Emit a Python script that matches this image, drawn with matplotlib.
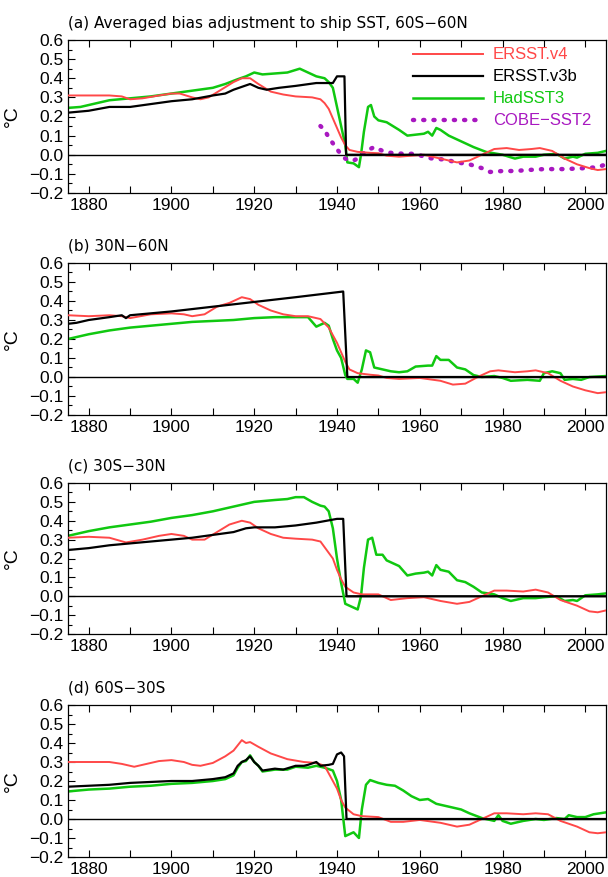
import matplotlib
matplotlib.use("Agg")
import matplotlib.pyplot as plt
from matplotlib.ticker import MultipleLocator

plt.rcParams['font.family'] = ['Liberation Sans Narrow', 'Liberation Sans', 'DejaVu Sans']

# ---- panel (a) 60S-60N ----
a_v4_yr = [1875, 1880, 1885, 1888, 1890, 1893, 1897, 1900, 1902, 1905, 1907, 1909, 1912, 1915, 1917, 1919,
           1921, 1924, 1927, 1930, 1934, 1936, 1937, 1938, 1939, 1940, 1941, 1942, 1943, 1945, 1948, 1950,
           1952, 1955, 1958, 1961, 1965, 1969, 1972, 1975, 1978, 1981, 1984, 1987, 1989, 1992, 1995, 1998,
           2001, 2003, 2005]
a_v4_val = [0.31, 0.31, 0.31, 0.305, 0.29, 0.295, 0.31, 0.32, 0.32, 0.30, 0.29, 0.30, 0.34, 0.38, 0.40, 0.40,
            0.37, 0.33, 0.315, 0.305, 0.30, 0.29, 0.27, 0.24, 0.19, 0.14, 0.09, 0.05, 0.025, 0.015, 0.01, 0.008,
            -0.005, -0.01, -0.005, 0.0, -0.02, -0.04, -0.03, 0.0, 0.03, 0.035, 0.025, 0.03, 0.035, 0.02, -0.02,
            -0.05, -0.07, -0.08, -0.075]
a_v3_yr = [1875, 1880, 1885, 1890, 1895, 1900, 1905, 1910, 1913, 1915, 1917, 1919, 1921, 1923, 1926, 1930,
           1935, 1939, 1940, 1941.8, 1942.2, 2005]
a_v3_val = [0.22, 0.23, 0.25, 0.25, 0.265, 0.28, 0.29, 0.31, 0.32, 0.34, 0.355, 0.37, 0.35, 0.34, 0.35, 0.36,
            0.375, 0.375, 0.41, 0.41, 0.0, 0.0]
a_had_yr = [1875, 1878, 1882, 1885, 1890, 1895, 1900, 1905, 1910, 1913, 1916, 1918, 1920, 1922, 1925, 1928,
            1931, 1933, 1935, 1937, 1938, 1939, 1940, 1941, 1942, 1942.5, 1944, 1945.3, 1945.8, 1946.5, 1947.5,
            1948.2, 1949, 1950, 1952, 1955, 1957, 1959, 1961, 1962, 1963, 1964, 1965, 1967, 1970, 1973, 1976,
            1980, 1983, 1985, 1988, 1990, 1993, 1995, 1997, 1998, 2000, 2003, 2005]
a_had_val = [0.245, 0.25, 0.27, 0.285, 0.295, 0.305, 0.32, 0.335, 0.35, 0.37, 0.395, 0.41, 0.43, 0.42, 0.425,
             0.43, 0.45, 0.43, 0.41, 0.40, 0.38, 0.35, 0.25, 0.15, 0.05, -0.04, -0.045, -0.065, 0.0, 0.12, 0.25,
             0.26, 0.20, 0.18, 0.17, 0.13, 0.10, 0.105, 0.11, 0.12, 0.10, 0.14, 0.13, 0.10, 0.07, 0.04, 0.015,
             0.0, -0.02, -0.01, -0.01, 0.0, 0.005, -0.02, -0.01, -0.015, 0.005, 0.01, 0.02]
a_cobe_yr = [1936, 1937, 1938, 1939, 1940, 1941, 1942, 1943, 1944, 1945, 1946, 1947, 1949, 1951, 1953, 1956,
             1959, 1961, 1963, 1966, 1969, 1972, 1975, 1977, 1980, 1983, 1986, 1990, 1995, 2000, 2003, 2005]
a_cobe_val = [0.15, 0.13, 0.09, 0.06, 0.03, 0.0, -0.02, -0.03, -0.03, -0.02, 0.0, 0.02, 0.04, 0.02, 0.01, 0.005,
              0.005, -0.01, -0.02, -0.025, -0.04, -0.05, -0.07, -0.09, -0.085, -0.085, -0.08, -0.075, -0.075,
              -0.07, -0.065, -0.05]

# ---- panel (b) 30N-60N ----
b_v4_yr = [1875, 1880, 1885, 1888, 1890, 1895, 1900, 1903, 1905, 1908, 1911, 1914, 1917, 1919, 1921, 1924,
           1927, 1930, 1933, 1936, 1938, 1939, 1940, 1941, 1942, 1943, 1945, 1948, 1950, 1952, 1955, 1960,
           1965, 1968, 1971, 1974, 1977, 1979, 1983, 1986, 1988, 1991, 1994, 1997, 2000, 2003, 2005]
b_v4_val = [0.325, 0.32, 0.325, 0.32, 0.31, 0.33, 0.335, 0.33, 0.32, 0.33, 0.37, 0.39, 0.42, 0.41, 0.38, 0.35,
            0.33, 0.32, 0.32, 0.305, 0.26, 0.22, 0.18, 0.13, 0.08, 0.04, 0.02, 0.012, 0.008, -0.005, -0.01,
            -0.005, -0.02, -0.04, -0.035, 0.0, 0.03, 0.035, 0.025, 0.03, 0.035, 0.02, -0.02, -0.05, -0.07,
            -0.085, -0.08]
b_v3_yr = [1875, 1877, 1880, 1885, 1888, 1889, 1890, 1900, 1910, 1920, 1930, 1941.5, 1942.5, 2005]
b_v3_val = [0.28, 0.285, 0.30, 0.315, 0.325, 0.31, 0.325, 0.345, 0.37, 0.395, 0.42, 0.45, 0.0, 0.0]
b_had_yr = [1875, 1880, 1885, 1890, 1895, 1900, 1905, 1910, 1915, 1920, 1925, 1930, 1933, 1934, 1935, 1936,
            1937, 1938, 1939, 1940, 1941, 1942, 1942.5, 1944, 1945, 1946, 1947, 1948, 1949, 1951, 1953, 1955,
            1957, 1959, 1962, 1963, 1964, 1965, 1967, 1969, 1971, 1973, 1975, 1978, 1980, 1982, 1986, 1989,
            1990, 1992, 1994, 1995, 1997, 1999, 2001, 2005]
b_had_val = [0.20, 0.225, 0.245, 0.26, 0.27, 0.28, 0.29, 0.295, 0.30, 0.31, 0.315, 0.315, 0.315, 0.29, 0.265,
             0.275, 0.285, 0.27, 0.20, 0.14, 0.10, 0.01, -0.01, -0.01, -0.03, 0.04, 0.14, 0.13, 0.05, 0.04,
             0.03, 0.025, 0.03, 0.055, 0.06, 0.06, 0.11, 0.09, 0.09, 0.05, 0.04, 0.01, 0.0, 0.005, -0.005,
             -0.02, -0.015, -0.02, 0.02, 0.03, 0.02, -0.015, -0.01, -0.015, 0.0, 0.005]

# ---- panel (c) 30S-30N ----
c_v4_yr = [1875, 1880, 1885, 1889, 1893, 1897, 1900, 1903, 1905, 1908, 1911, 1914, 1917, 1919, 1921, 1924,
           1927, 1930, 1934, 1936, 1937, 1939, 1940, 1941, 1942, 1944, 1946, 1950, 1953, 1957, 1961, 1965,
           1969, 1972, 1975, 1978, 1981, 1985, 1988, 1991, 1994, 1998, 2001, 2003, 2005]
c_v4_val = [0.31, 0.315, 0.31, 0.285, 0.30, 0.32, 0.33, 0.32, 0.30, 0.30, 0.34, 0.38, 0.40, 0.39, 0.36, 0.33,
            0.31, 0.305, 0.30, 0.29, 0.26, 0.20, 0.14, 0.09, 0.05, 0.02, 0.01, 0.01, -0.02, -0.01, -0.005,
            -0.025, -0.04, -0.03, 0.0, 0.03, 0.03, 0.025, 0.035, 0.02, -0.02, -0.05, -0.08, -0.085, -0.075]
c_v3_yr = [1875, 1880, 1885, 1890, 1895, 1900, 1905, 1910, 1915, 1918, 1920, 1925, 1930, 1935, 1940, 1941.5,
           1942.3, 2005]
c_v3_val = [0.245, 0.255, 0.27, 0.28, 0.29, 0.30, 0.31, 0.325, 0.34, 0.36, 0.365, 0.365, 0.375, 0.39, 0.41,
            0.41, 0.0, 0.0]
c_had_yr = [1875, 1880, 1885, 1890, 1895, 1900, 1905, 1910, 1915, 1920, 1925, 1928, 1930, 1932, 1934, 1936,
            1937, 1938, 1939, 1940, 1941, 1942, 1943, 1945, 1945.8, 1946.5, 1947.5, 1948.5, 1949.5, 1951,
            1952, 1955, 1957, 1959, 1961, 1962, 1963, 1964, 1965, 1967, 1969, 1971, 1973, 1975, 1978, 1980,
            1982, 1985, 1988, 1990, 1993, 1995, 1997, 1998, 2000, 2003, 2005]
c_had_val = [0.32, 0.345, 0.365, 0.38, 0.395, 0.415, 0.43, 0.45, 0.475, 0.50, 0.51, 0.515, 0.525, 0.525, 0.50,
             0.48, 0.475, 0.45, 0.36, 0.20, 0.07, -0.04, -0.05, -0.07, 0.0, 0.15, 0.30, 0.31, 0.22, 0.22, 0.19,
             0.16, 0.11, 0.12, 0.125, 0.13, 0.11, 0.165, 0.14, 0.13, 0.085, 0.075, 0.05, 0.02, 0.01, -0.01,
             -0.025, -0.01, -0.01, -0.005, 0.0, -0.025, -0.02, -0.025, 0.005, 0.01, 0.015]

# ---- panel (d) 60S-30S ----
d_v4_yr = [1875, 1880, 1885, 1888, 1891, 1894, 1897, 1900, 1903, 1905, 1907, 1910, 1913, 1915, 1917, 1918,
           1919, 1921, 1924, 1928, 1932, 1935, 1937, 1938, 1940, 1941, 1942, 1944, 1946, 1950, 1953, 1956,
           1960, 1965, 1969, 1972, 1975, 1978, 1981, 1985, 1988, 1991, 1994, 1998, 2001, 2003, 2005]
d_v4_val = [0.30, 0.30, 0.30, 0.29, 0.275, 0.29, 0.305, 0.31, 0.30, 0.285, 0.28, 0.295, 0.33, 0.36, 0.415,
            0.40, 0.405, 0.38, 0.345, 0.315, 0.30, 0.295, 0.28, 0.24, 0.16, 0.10, 0.06, 0.025, 0.015, 0.01,
            -0.015, -0.015, -0.005, -0.02, -0.04, -0.03, 0.0, 0.03, 0.03, 0.025, 0.03, 0.025, -0.01, -0.04,
            -0.07, -0.075, -0.07]
d_v3_yr = [1875, 1880, 1885, 1890, 1895, 1900, 1905, 1910, 1913, 1915, 1916, 1917, 1918, 1919, 1920, 1921,
           1922, 1925, 1927, 1930, 1932, 1933, 1935, 1936, 1938, 1939, 1940, 1941, 1941.7, 1942.3, 2005]
d_v3_val = [0.17, 0.175, 0.18, 0.19, 0.195, 0.20, 0.20, 0.21, 0.22, 0.24, 0.28, 0.30, 0.31, 0.33, 0.30, 0.28,
            0.255, 0.265, 0.26, 0.28, 0.28, 0.285, 0.30, 0.28, 0.285, 0.29, 0.34, 0.35, 0.33, 0.0, 0.0]
d_had_yr = [1875, 1880, 1885, 1890, 1895, 1900, 1905, 1910, 1913, 1915, 1916, 1917, 1918, 1919, 1920, 1921,
            1922, 1925, 1928, 1930, 1933, 1935, 1937, 1939, 1940, 1941, 1942, 1943, 1944, 1945.3, 1946, 1947,
            1948, 1950, 1952, 1954, 1956, 1958, 1960, 1962, 1964, 1966, 1968, 1970, 1972, 1975, 1978, 1979,
            1980, 1982, 1985, 1988, 1990, 1993, 1995, 1996, 1998, 2000, 2002, 2005]
d_had_val = [0.145, 0.155, 0.16, 0.17, 0.175, 0.185, 0.19, 0.20, 0.21, 0.23, 0.27, 0.30, 0.305, 0.335, 0.30,
             0.28, 0.25, 0.26, 0.26, 0.275, 0.27, 0.28, 0.27, 0.255, 0.20, 0.10, -0.09, -0.08, -0.07, -0.10,
             0.05, 0.18, 0.205, 0.19, 0.18, 0.175, 0.15, 0.12, 0.10, 0.105, 0.08, 0.07, 0.06, 0.05, 0.03,
             0.005, -0.01, 0.02, -0.01, -0.025, -0.01, 0.0, -0.005, 0.005, 0.0, 0.02, 0.01, 0.01, 0.025, 0.035]

titles = ['(a) Averaged bias adjustment to ship SST, 60S\u221260N', '(b) 30N\u221260N',
          '(c) 30S\u221230N', '(d) 60S\u221230S']
labels = ['ERSST.v4', 'ERSST.v3b', 'HadSST3', 'COBE\u2212SST2']

panels = [
    (a_v4_yr, a_v4_val, a_v3_yr, a_v3_val, a_had_yr, a_had_val),
    (b_v4_yr, b_v4_val, b_v3_yr, b_v3_val, b_had_yr, b_had_val),
    (c_v4_yr, c_v4_val, c_v3_yr, c_v3_val, c_had_yr, c_had_val),
    (d_v4_yr, d_v4_val, d_v3_yr, d_v3_val, d_had_yr, d_had_val),
]

red = '#ff4848'
green = '#10c810'
purple = '#a818c0'

W, H = 608, 877
fig = plt.figure(figsize=(W / 100, H / 100), dpi=100)
tops = [40, 263, 483, 705]
bottoms = [193, 415, 634, 857]
left, right = 68, 606

for i, p in enumerate(panels):
    ax = fig.add_axes([left / W, 1 - bottoms[i] / H, (right - left) / W, (bottoms[i] - tops[i]) / H])
    v4y, v4v, v3y, v3v, hy, hv = p
    ax.axhline(0, color='black', lw=1.0, zorder=1)
    ax.plot(v4y, v4v, color=red, lw=1.4, label=labels[0], zorder=3)
    ax.plot(v3y, v3v, color='black', lw=1.6, label=labels[1], zorder=4)
    ax.plot(hy, hv, color=green, lw=1.8, label=labels[2], zorder=2)
    if i == 0:
        # dotted COBE line, dots ~10 px apart
        ax.plot(a_cobe_yr, a_cobe_val, color=purple, lw=3.2, ls=(0, (0.25, 2.05)),
                dash_capstyle='round', label=labels[3], zorder=2)
        leg = ax.legend(loc='upper right', bbox_to_anchor=(1.0, 1.05), frameon=False, fontsize=12,
                        handlelength=4.2, handletextpad=0.6, labelspacing=0.42, labelcolor='linecolor')
    ax.set_xlim(1875, 2005)
    ax.set_ylim(-0.2, 0.6)
    ax.xaxis.set_major_locator(MultipleLocator(20))
    ax.xaxis.set_minor_locator(MultipleLocator(10))
    ax.yaxis.set_major_locator(MultipleLocator(0.1))
    ax.yaxis.set_minor_locator(MultipleLocator(0.05))
    ax.yaxis.set_major_formatter(plt.FuncFormatter(lambda v, _: ('%.1f' % v).replace('-', '\u2212')))
    ax.tick_params(which='both', direction='in', top=True, right=False, labelsize=12.5)
    ax.tick_params(which='major', length=5, width=0.8)
    ax.tick_params(which='minor', length=5, width=0.8, axis='x')
    ax.tick_params(which='minor', length=3, width=0.8, axis='y')
    for s in ax.spines.values():
        s.set_linewidth(0.9)
    ax.set_ylabel('\u00b0C', fontsize=14, labelpad=6)
    ax.text(0.0, 1.06, titles[i], transform=ax.transAxes, fontsize=11,
            family=['DejaVu Sans'], va='bottom', ha='left')

fig.savefig('out.png', dpi=100)
